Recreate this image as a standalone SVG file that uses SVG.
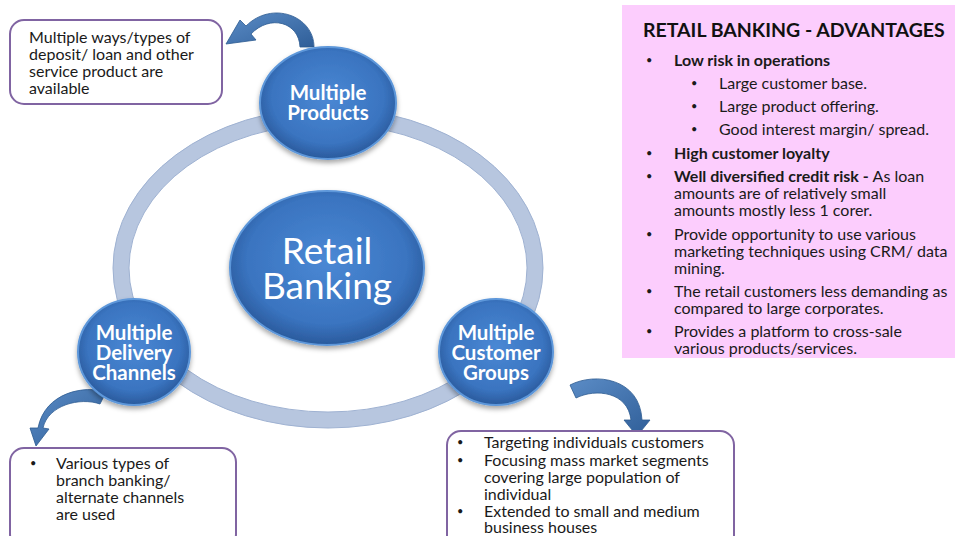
<svg xmlns="http://www.w3.org/2000/svg" width="955" height="536" viewBox="0 0 955 536">
  <defs>
    <radialGradient id="ball" cx="50%" cy="45%" r="55%">
      <stop offset="0" stop-color="#4a88d4"/>
      <stop offset="0.75" stop-color="#3a74c0"/>
      <stop offset="1" stop-color="#2a5a9c"/>
    </radialGradient>
    <linearGradient id="arrowFill" x1="0" y1="0" x2="1" y2="1">
      <stop offset="0" stop-color="#5b8cc6"/>
      <stop offset="1" stop-color="#2f5e98"/>
    </linearGradient>
    <filter id="soft" x="-20%" y="-20%" width="140%" height="140%">
      <feGaussianBlur in="SourceAlpha" stdDeviation="2.5"/>
      <feOffset dx="0" dy="3" result="b"/>
      <feFlood flood-color="#000" flood-opacity="0.35"/>
      <feComposite in2="b" operator="in"/>
      <feMerge><feMergeNode/><feMergeNode in="SourceGraphic"/></feMerge>
    </filter>
  </defs>
  <style>
    .box { fill: #ffffff; stroke: #8064a2; stroke-width: 2; }
    .ring { fill: none; stroke: #b7c6df; stroke-width: 16; }
    .ringEdge { fill: none; stroke: #9fb2d2; stroke-width: 1; }
    .ball { fill: url(#ball); stroke: #5d97da; stroke-width: 2; filter: url(#soft); }
    .arrow { fill: url(#arrowFill); stroke: #2c5a90; stroke-width: 0.8; }
    .nodeLbl { font-family: Lato, "Open Sans", sans-serif; font-weight: bold; font-size: 20.5px; fill: #ffffff; text-anchor: middle; }
    .bigLbl { font-family: Lato, "Open Sans", sans-serif; font-size: 37px; fill: #ffffff; text-anchor: middle; }
    .txt { font-family: Lato, "Open Sans", sans-serif; font-size: 16px; fill: #1a1a1a; }
    .dot { font-size: 11px; }
    .b { font-weight: bold; }
    .title { font-family: Lato, "Open Sans", sans-serif; font-weight: bold; font-size: 19.5px; fill: #111111; }
  </style>

  <!-- advantages panel -->
  <g id="advantages">
    <rect x="622" y="5" width="333" height="353" fill="#fccdfd"/>
    <text class="title" x="643" y="37">RETAIL BANKING - ADVANTAGES</text>
    <g class="txt">
      <text class="dot" x="646" y="64">•</text><text class="b" x="674" y="66">Low risk in operations</text>
      <text class="dot" x="691" y="87">•</text><text x="719" y="89">Large customer base.</text>
      <text class="dot" x="691" y="110">•</text><text x="719" y="112">Large product offering.</text>
      <text class="dot" x="691" y="133">•</text><text x="719" y="135">Good interest margin/ spread.</text>
      <text class="dot" x="646" y="157">•</text><text class="b" x="674" y="159">High customer loyalty</text>
      <text class="dot" x="646" y="180">•</text><text x="674" y="182"><tspan class="b">Well diversified credit risk - </tspan>As loan</text>
      <text x="674" y="199">amounts are of relatively small</text>
      <text x="674" y="216">amounts mostly less 1 corer.</text>
      <text class="dot" x="646" y="238">•</text><text x="674" y="240">Provide opportunity to use various</text>
      <text x="674" y="257">marketing techniques using CRM/ data</text>
      <text x="674" y="274">mining.</text>
      <text class="dot" x="646" y="295">•</text><text x="674" y="297">The retail customers less demanding as</text>
      <text x="674" y="314">compared to large corporates.</text>
      <text class="dot" x="646" y="335">•</text><text x="674" y="337">Provides a platform to cross-sale</text>
      <text x="674" y="354">various products/services.</text>
    </g>
  </g>

  <!-- ring linking the three outer nodes -->
  <g id="connectors">
    <ellipse class="ring" cx="328" cy="268" rx="207" ry="152"/>
    <ellipse class="ringEdge" cx="328" cy="268" rx="215" ry="160"/>
    <ellipse class="ringEdge" cx="328" cy="268" rx="199" ry="144"/>
    <!-- curved arrows from the nodes to their notes -->
    <path class="arrow" d="M314 47 C314 16 272 0 246 26 L240 20 L226 44 L256 40 L251 34 C270 14 299 22 300 47 Z"/>
    <path class="arrow" d="M106 392 C85 385 45 392 38 428 L30 428 L36 446 L49 429 L43 428 C48 405 80 397 100 404 Z"/>
    <path class="arrow" d="M570 385 C595 372 640 378 642 420 L650 420 L637 436 L624 420 L631 420 C628 392 596 388 576 398 Z"/>
  </g>

  <!-- note boxes -->
  <g id="note-products">
    <rect class="box" x="10" y="20" width="212" height="84" rx="14"/>
    <g class="txt">
      <text x="29" y="43">Multiple ways/types of</text>
      <text x="29" y="60">deposit/ loan and other</text>
      <text x="29" y="77">service product are</text>
      <text x="29" y="94">available</text>
    </g>
  </g>
  <g id="note-channels">
    <rect class="box" x="10" y="448" width="226" height="100" rx="14"/>
    <g class="txt">
      <text class="dot" x="30" y="467">•</text>
      <text x="56" y="469">Various types of</text>
      <text x="56" y="486">branch banking/</text>
      <text x="56" y="503">alternate channels</text>
      <text x="56" y="520">are used</text>
    </g>
  </g>
  <g id="note-customers">
    <rect class="box" x="447" y="431" width="287" height="120" rx="14"/>
    <g class="txt">
      <text class="dot" x="457" y="446">•</text><text x="484" y="448">Targeting individuals customers</text>
      <text class="dot" x="457" y="464">•</text><text x="484" y="466">Focusing mass market segments</text>
      <text x="484" y="483">covering large population of</text>
      <text x="484" y="500">individual</text>
      <text class="dot" x="457" y="515">•</text><text x="484" y="517">Extended to small and medium</text>
      <text x="484" y="533">business houses</text>
    </g>
  </g>

  <!-- nodes -->
  <g id="node-retail">
    <ellipse class="ball" cx="327" cy="268" rx="97" ry="77"/>
    <text class="bigLbl" x="327" y="264">Retail</text>
    <text class="bigLbl" x="327" y="299">Banking</text>
  </g>
  <g id="node-products">
    <ellipse class="ball" cx="328" cy="103" rx="68" ry="56"/>
    <text class="nodeLbl" x="328" y="100">Multiple</text>
    <text class="nodeLbl" x="328" y="120">Products</text>
  </g>
  <g id="node-channels">
    <ellipse class="ball" cx="134" cy="352" rx="56" ry="53"/>
    <text class="nodeLbl" x="134" y="340">Multiple</text>
    <text class="nodeLbl" x="134" y="360">Delivery</text>
    <text class="nodeLbl" x="134" y="380">Channels</text>
  </g>
  <g id="node-customers">
    <ellipse class="ball" cx="496" cy="352" rx="57" ry="53"/>
    <text class="nodeLbl" x="496" y="340">Multiple</text>
    <text class="nodeLbl" x="496" y="360">Customer</text>
    <text class="nodeLbl" x="496" y="380">Groups</text>
  </g>
</svg>
